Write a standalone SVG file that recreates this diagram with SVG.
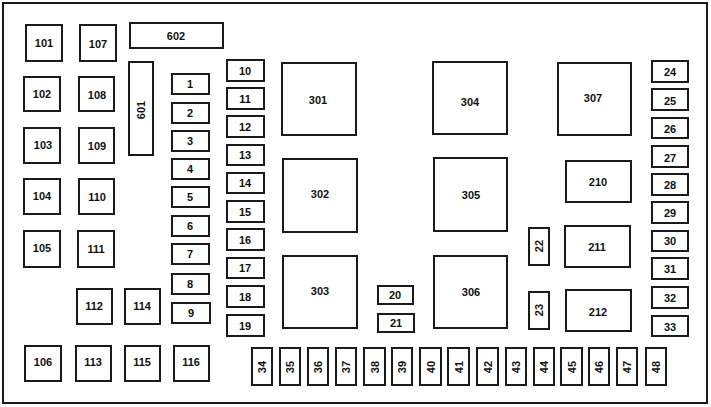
<svg xmlns="http://www.w3.org/2000/svg" width="711" height="407" viewBox="0 0 711 407">
<style>
rect{fill:#fff;stroke:#1a1a1a;stroke-width:2}
text{font-family:"Liberation Sans",Arial,sans-serif;font-weight:bold;font-size:11px;fill:#111;text-anchor:middle;dominant-baseline:central}
</style>
<rect x="3" y="3" width="704" height="400" stroke-width="2.5"/>
<g id="n101"><rect x="26" y="25" width="36" height="36"/><text x="44" y="43">101</text></g>
<g id="n107"><rect x="80" y="25" width="36" height="36"/><text x="98" y="44">107</text></g>
<g id="n602"><rect x="130" y="23" width="93" height="25"/><text x="176" y="35.5">602</text></g>
<g id="n102"><rect x="24" y="77" width="36" height="34"/><text x="42" y="94">102</text></g>
<g id="n108"><rect x="79" y="77" width="35" height="34"/><text x="97" y="95">108</text></g>
<g id="n601"><rect x="129" y="62" width="24" height="93"/><text transform="translate(141,110) rotate(-90)">601</text></g>
<g id="n103"><rect x="24" y="128" width="36" height="35"/><text x="43" y="145">103</text></g>
<g id="n109"><rect x="79" y="128" width="35" height="35"/><text x="97" y="146">109</text></g>
<g id="n104"><rect x="24" y="179" width="36" height="35"/><text x="42" y="196">104</text></g>
<g id="n110"><rect x="79" y="179" width="35" height="35"/><text x="97" y="197">110</text></g>
<g id="n105"><rect x="24" y="231" width="36" height="36"/><text x="42" y="248">105</text></g>
<g id="n111"><rect x="78" y="231" width="36" height="36"/><text x="96" y="249">111</text></g>
<g id="n112"><rect x="77" y="289" width="35" height="35"/><text x="94" y="306">112</text></g>
<g id="n114"><rect x="125" y="289" width="35" height="35"/><text x="142" y="306">114</text></g>
<g id="n106"><rect x="25" y="346" width="36" height="35"/><text x="43" y="362">106</text></g>
<g id="n113"><rect x="76" y="346" width="35" height="35"/><text x="93" y="362">113</text></g>
<g id="n115"><rect x="125" y="346" width="35" height="35"/><text x="142" y="362">115</text></g>
<g id="n116"><rect x="174" y="346" width="35" height="35"/><text x="191" y="362">116</text></g>
<g id="n1"><rect x="172" y="74" width="37" height="20"/><text x="190" y="84">1</text></g>
<g id="n2"><rect x="172" y="103" width="37" height="20"/><text x="190" y="113">2</text></g>
<g id="n3"><rect x="172" y="131" width="37" height="20"/><text x="190" y="141">3</text></g>
<g id="n4"><rect x="172" y="159" width="37" height="20"/><text x="190" y="169">4</text></g>
<g id="n5"><rect x="172" y="187" width="37" height="20"/><text x="190" y="197">5</text></g>
<g id="n6"><rect x="172" y="216" width="37" height="20"/><text x="190" y="226">6</text></g>
<g id="n7"><rect x="172" y="244" width="37" height="20"/><text x="190" y="254">7</text></g>
<g id="n8"><rect x="172" y="274" width="37" height="20"/><text x="190" y="284">8</text></g>
<g id="n9"><rect x="172" y="303" width="38" height="20"/><text x="191" y="313">9</text></g>
<g id="n10"><rect x="227" y="60" width="37" height="21"/><text x="245" y="70.5">10</text></g>
<g id="n11"><rect x="227" y="88" width="37" height="21"/><text x="245" y="98.5">11</text></g>
<g id="n12"><rect x="227" y="116" width="37" height="21"/><text x="245" y="126.5">12</text></g>
<g id="n13"><rect x="227" y="145" width="37" height="20"/><text x="245" y="155">13</text></g>
<g id="n14"><rect x="227" y="173" width="37" height="20"/><text x="245" y="183">14</text></g>
<g id="n15"><rect x="227" y="201" width="37" height="21"/><text x="245" y="211.5">15</text></g>
<g id="n16"><rect x="227" y="229" width="37" height="21"/><text x="245" y="239.5">16</text></g>
<g id="n17"><rect x="227" y="258" width="37" height="20"/><text x="245" y="268">17</text></g>
<g id="n18"><rect x="227" y="286" width="37" height="21"/><text x="245" y="296.5">18</text></g>
<g id="n19"><rect x="227" y="315" width="37" height="21"/><text x="245" y="325.5">19</text></g>
<g id="n301"><rect x="282" y="63" width="74" height="72"/><text x="318" y="100">301</text></g>
<g id="n302"><rect x="283" y="159" width="74" height="73"/><text x="320" y="194">302</text></g>
<g id="n303"><rect x="283" y="256" width="74" height="72"/><text x="320" y="291">303</text></g>
<g id="n20"><rect x="378" y="286" width="35" height="18"/><text x="395" y="295">20</text></g>
<g id="n21"><rect x="378" y="314" width="36" height="18"/><text x="396" y="323">21</text></g>
<g id="n304"><rect x="433" y="62" width="74" height="72"/><text x="470" y="102">304</text></g>
<g id="n305"><rect x="434" y="158" width="73" height="73"/><text x="471" y="195">305</text></g>
<g id="n306"><rect x="434" y="256" width="73" height="72"/><text x="471" y="292">306</text></g>
<g id="n307"><rect x="558" y="63" width="73" height="72"/><text x="593" y="98">307</text></g>
<g id="n210"><rect x="566" y="161" width="65" height="41"/><text x="598" y="182">210</text></g>
<g id="n211"><rect x="565" y="226" width="65" height="41"/><text x="597" y="247">211</text></g>
<g id="n212"><rect x="566" y="290" width="65" height="41"/><text x="598" y="312">212</text></g>
<g id="n22"><rect x="529" y="228" width="20" height="37"/><text transform="translate(539,246) rotate(-90)">22</text></g>
<g id="n23"><rect x="529" y="292" width="20" height="37"/><text transform="translate(539,310) rotate(-90)">23</text></g>
<g id="n24"><rect x="652" y="61" width="36" height="21"/><text x="670" y="72">24</text></g>
<g id="n25"><rect x="652" y="89" width="36" height="21"/><text x="670" y="101">25</text></g>
<g id="n26"><rect x="652" y="118" width="36" height="20"/><text x="670" y="128.5">26</text></g>
<g id="n27"><rect x="652" y="146" width="36" height="21"/><text x="670" y="157.5">27</text></g>
<g id="n28"><rect x="652" y="174" width="36" height="21"/><text x="670" y="184.5">28</text></g>
<g id="n29"><rect x="652" y="202" width="36" height="21"/><text x="670" y="213">29</text></g>
<g id="n30"><rect x="652" y="231" width="36" height="20"/><text x="670" y="240.5">30</text></g>
<g id="n31"><rect x="652" y="258" width="36" height="21"/><text x="670" y="269">31</text></g>
<g id="n32"><rect x="652" y="287" width="36" height="21"/><text x="670" y="298">32</text></g>
<g id="n33"><rect x="652" y="316" width="36" height="20"/><text x="670" y="326.5">33</text></g>
<g id="n34"><rect x="252" y="348" width="20" height="37"/><text transform="translate(262,367) rotate(-90)">34</text></g>
<g id="n35"><rect x="280" y="348" width="20" height="37"/><text transform="translate(290,367) rotate(-90)">35</text></g>
<g id="n36"><rect x="308" y="348" width="20" height="37"/><text transform="translate(318,367) rotate(-90)">36</text></g>
<g id="n37"><rect x="336" y="348" width="20" height="37"/><text transform="translate(346,367) rotate(-90)">37</text></g>
<g id="n38"><rect x="364" y="348" width="21" height="37"/><text transform="translate(374.5,367) rotate(-90)">38</text></g>
<g id="n39"><rect x="392" y="348" width="20" height="37"/><text transform="translate(402,367) rotate(-90)">39</text></g>
<g id="n40"><rect x="420" y="348" width="21" height="37"/><text transform="translate(430.5,367) rotate(-90)">40</text></g>
<g id="n41"><rect x="448" y="348" width="21" height="37"/><text transform="translate(458.5,367) rotate(-90)">41</text></g>
<g id="n42"><rect x="477" y="348" width="21" height="37"/><text transform="translate(487.5,367) rotate(-90)">42</text></g>
<g id="n43"><rect x="506" y="348" width="20" height="37"/><text transform="translate(516,367) rotate(-90)">43</text></g>
<g id="n44"><rect x="534" y="348" width="20" height="37"/><text transform="translate(544,367) rotate(-90)">44</text></g>
<g id="n45"><rect x="561" y="348" width="21" height="37"/><text transform="translate(571.5,367) rotate(-90)">45</text></g>
<g id="n46"><rect x="589" y="348" width="20" height="37"/><text transform="translate(599,367) rotate(-90)">46</text></g>
<g id="n47"><rect x="617" y="348" width="20" height="37"/><text transform="translate(627,367) rotate(-90)">47</text></g>
<g id="n48"><rect x="646" y="348" width="20" height="37"/><text transform="translate(656,367) rotate(-90)">48</text></g>
<g id="connectors"></g>
</svg>
